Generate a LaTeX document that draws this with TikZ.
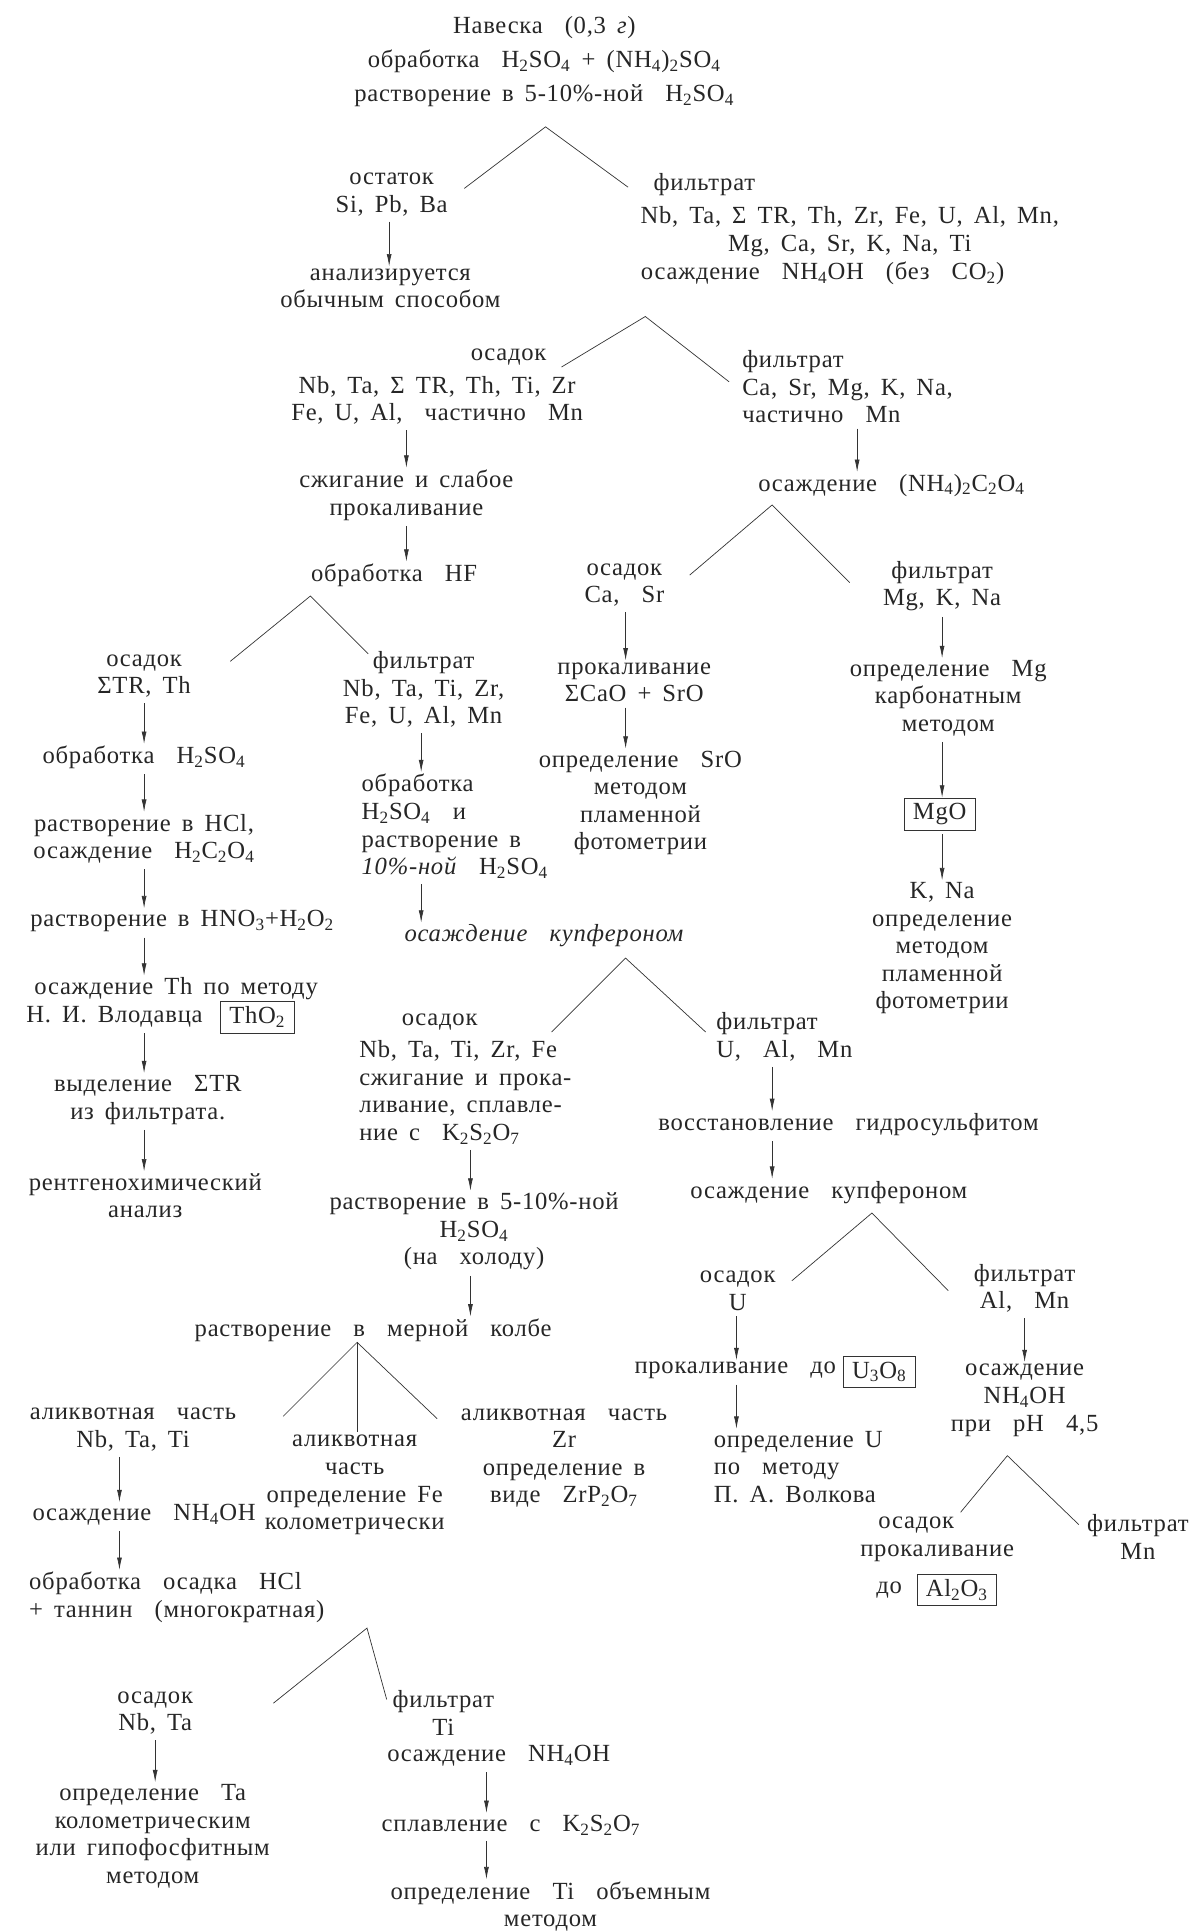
\documentclass[tikz,border=0pt]{standalone}
\usepackage{fontspec}
\setmainfont{Liberation Serif}[LetterSpace=3,WordSpace=1.6]
\usetikzlibrary{arrows.meta}

\begin{document}
\begin{tikzpicture}[x=0.0246cm, y=-0.0246cm,
	every node/.style={font=\fontsize{14}{15.7}\selectfont, align=center, inner sep=1pt, text=black!85},
	arr/.style={-{Latex[length=7pt,width=2.8pt]}, draw=black!80, shorten <=2pt},
	split/.style={draw=black!80},
	res/.style={draw=black!80, inner xsep=5pt, inner ysep=3pt}]
	\useasboundingbox (0,0) rectangle (972,1568);
	% columns of the arrows
	\coordinate (cA) at (117,0);
	\coordinate (cB) at (316,0);
	\coordinate (cC) at (330,0);
	\coordinate (cD) at (342,0);
	\coordinate (cE) at (382,0);
	\coordinate (cG) at (508,0);
	\coordinate (cH) at (696,0);
	\coordinate (cI) at (765,0);
	\coordinate (cJ) at (627,0);
	\coordinate (cK) at (598,0);
	\coordinate (cL) at (832,0);
	\coordinate (cM) at (97,0);
	\coordinate (cN) at (126,0);
	\coordinate (cO) at (395,0);

	% sample
	\node[font=\fontsize{14}{19.6}\selectfont] (nav) at (442,50) {Навеска \ (0,3 \textit{г})\\обработка \ H\textsubscript{2}SO\textsubscript{4} + (NH\textsubscript{4})\textsubscript{2}SO\textsubscript{4}\\растворение в 5-10\%-ной \ H\textsubscript{2}SO\textsubscript{4}};
	\coordinate (sp1) at (443,103);
	\coordinate (sp1l) at (377,153);
	\coordinate (sp1r) at (510,152);
	\draw[split] (sp1l) -- (sp1) -- (sp1r);

	\node (ost) at (318,158) {остаток\\Si, Pb, Ba};
	\node (anal) at (317,234) {анализируется\\обычным способом};
	\draw[arr] (ost.south -| cB) -- (anal.north -| cB);

	\node (fil1) at (572,150) {фильтрат};
	\node (fil1c) at (690,188) {Nb, Ta, Σ TR, Th, Zr, Fe, U, Al, Mn,\\Mg, Ca, Sr, K, Na, Ti};
	\node (osNH) at (668,222) {осаждение \ NH\textsubscript{4}OH \ (без \ CO\textsubscript{2})};
	\coordinate (sp2) at (524,257);
	\coordinate (sp2l) at (456,298);
	\coordinate (sp2r) at (592,310);
	\draw[split] (sp2l) -- (sp2) -- (sp2r);

	% hydroxide precipitate
	\node (osad2) at (413,290) {осадок};
	\node (osad2c) at (355,325) {Nb, Ta, Σ TR, Th, Ti, Zr\\Fe, U, Al, \ частично \ Mn};
	\node (burn) at (330,402) {сжигание и слабое\\прокаливание};
	\node (hf) at (320,467) {обработка \ HF};
	\draw[arr] (osad2c.south -| cC) -- (burn.north -| cC);
	\draw[arr] (burn.south -| cC) -- (hf.north -| cC);
	\coordinate (sp4) at (252,484);
	\coordinate (sp4l) at (187,537);
	\coordinate (sp4r) at (299,531);
	\draw[split] (sp4l) -- (sp4) -- (sp4r);

	% TR, Th
	\node (osTR) at (117,549) {осадок\\ΣTR, Th};
	\node (trH) at (117,615) {обработка \ H\textsubscript{2}SO\textsubscript{4}};
	\node (trHCl) at (117,681) {растворение в HCl,\\осаждение \ H\textsubscript{2}C\textsubscript{2}O\textsubscript{4}};
	\node (trHNO) at (148,748) {растворение в HNO\textsubscript{3}+H\textsubscript{2}O\textsubscript{2}};
	\node (trTh) at (143,803) {осаждение Th по методу};
	\node (trVl) at (93,826) {Н. И. Влодавца};
	\node[res] (tho) at (209,826) {ThO\textsubscript{2}};
	\node (trSel) at (120,893) {выделение \ ΣTR\\из фильтрата.};
	\node (trX) at (118,971) {рентгенохимический\\анализ};
	\draw[arr] (osTR.south -| cA) -- (trH.north -| cA);
	\draw[arr] (trH.south -| cA) -- (trHCl.north -| cA);
	\draw[arr] (trHCl.south -| cA) -- (trHNO.north -| cA);
	\draw[arr] (trHNO.south -| cA) -- (trTh.north -| cA);
	\draw[arr] (trVl.south -| cA) -- (trSel.north -| cA);
	\draw[arr] (trSel.south -| cA) -- (trX.north -| cA);

	% HF filtrate
	\node (filHF) at (344,560) {фильтрат\\Nb, Ta, Ti, Zr,\\Fe, U, Al, Mn};
	\node[align=left, anchor=west] (hfH) at (292,671) {обработка\\ H\textsubscript{2}SO\textsubscript{4} \ и\\растворение в\\\textit{10\%-ной} \ H\textsubscript{2}SO\textsubscript{4}};
	\node (kup1) at (442,760) {\textit{осаждение \ купфероном}};
	\draw[arr] (filHF.south -| cD) -- (hfH.north -| cD);
	\draw[arr] (hfH.south -| cD) -- (kup1.north -| cD);
	\coordinate (sp5) at (508,778);
	\coordinate (sp5l) at (448,838);
	\coordinate (sp5r) at (573,838);
	\draw[split] (sp5l) -- (sp5) -- (sp5r);

	\node (osNbh) at (357,830) {осадок};
	\node[align=left, anchor=west] (osNb) at (290,887) {Nb, Ta, Ti, Zr, Fe\\сжигание и прока-\\ливание, сплавле-\\ние с \ K\textsubscript{2}S\textsubscript{2}O\textsubscript{7}};
	\node (dis5) at (385,1000) {растворение в 5-10\%-ной\\H\textsubscript{2}SO\textsubscript{4}\\(на \ холоду)};
	\node (flask) at (303,1080) {растворение \ в \ мерной \ колбе};
	\draw[arr] (osNb.south -| cE) -- (dis5.north -| cE);
	\draw[arr] (dis5.south -| cE) -- (flask.north -| cE);
	\coordinate (sp9) at (290,1090);
	\coordinate (sp9l) at (230,1150);
	\coordinate (sp9m) at (290,1163);
	\coordinate (sp9r) at (355,1152);
	\draw[split] (sp9l) -- (sp9) -- (sp9r);
	\draw[split] (sp9) -- (sp9m);

	% aliquots
	\node (ali1) at (108,1161) {аликвотная \ часть\\Nb, Ta, Ti};
	\node (ali1NH) at (117,1230) {осаждение \ NH\textsubscript{4}OH};
	\node[align=left, anchor=west] (ali1HCl) at (22,1297) {обработка \ осадка \ HCl\\+ таннин \ (многократная)};
	\draw[arr] (ali1.south -| cM) -- (ali1NH.north -| cM);
	\draw[arr] (ali1NH.south -| cM) -- (ali1HCl.north -| cM);
	\node (ali2) at (288,1206) {аликвотная\\часть\\определение Fe\\колометрически};
	\node (ali3) at (458,1184) {аликвотная \ часть\\Zr\\определение в\\виде \ ZrP\textsubscript{2}O\textsubscript{7}};
	\coordinate (sp8) at (298,1322);
	\coordinate (sp8l) at (222,1383);
	\coordinate (sp8r) at (314,1380);
	\draw[split] (sp8l) -- (sp8) -- (sp8r);

	\node (osNbTa) at (126,1391) {осадок\\Nb, Ta};
	\node (taDet) at (124,1491) {определение \ Ta\\колометрическим\\или гипофосфитным\\методом};
	\draw[arr] (osNbTa.south -| cN) -- (taDet.north -| cN);
	\node (filTi) at (360,1391) {фильтрат\\Ti};
	\node (tiNH) at (405,1426) {осаждение \ NH\textsubscript{4}OH};
	\node (tiFuse) at (415,1482) {сплавление \ с \ K\textsubscript{2}S\textsubscript{2}O\textsubscript{7}};
	\node (tiDet) at (447,1548) {определение \ Ti \ объемным\\методом};
	\draw[arr] (tiNH.south -| cO) -- (tiFuse.north -| cO);
	\draw[arr] (tiFuse.south -| cO) -- (tiDet.north -| cO);

	% Ca, Sr, Mg, K, Na
	\node[align=left, anchor=west] (fil2) at (601,314) {фильтрат\\Ca, Sr, Mg, K, Na,\\частично \ Mn};
	\node (oxal) at (724,394) {осаждение \ (NH\textsubscript{4})\textsubscript{2}C\textsubscript{2}O\textsubscript{4}};
	\draw[arr] (fil2.south -| cH) -- (oxal.north -| cH);
	\coordinate (sp3) at (627,410);
	\coordinate (sp3l) at (560,467);
	\coordinate (sp3r) at (690,473);
	\draw[split] (sp3l) -- (sp3) -- (sp3r);

	\node (osCa) at (507,475) {осадок\\Ca, \ Sr};
	\node (calc) at (515,554) {прокаливание\\ΣCaO + SrO};
	\node (srdet) at (520,652) {определение \ SrO\\методом\\пламенной\\фотометрии};
	\draw[arr] (osCa.south -| cG) -- (calc.north -| cG);
	\draw[arr] (calc.south -| cG) -- (srdet.north -| cG);

	\node (filMg) at (765,476) {фильтрат\\Mg, K, Na};
	\node (mgdet) at (770,567) {определение \ Mg\\карбонатным\\методом};
	\node[res] (mgo) at (763,661) {MgO};
	\node (kna) at (765,770) {K, Na\\определение\\методом\\пламенной\\фотометрии};
	\draw[arr] (filMg.south -| cI) -- (mgdet.north -| cI);
	\draw[arr] (mgdet.south -| cI) -- (mgo.north -| cI);
	\draw[arr] (mgo.south -| cI) -- (kna.north -| cI);

	% U, Al, Mn
	\node[align=left, anchor=west] (filU) at (580,842) {фильтрат\\U, \ Al, \ Mn};
	\node (redU) at (689,913) {восстановление \ гидросульфитом};
	\node (kup2) at (673,968) {осаждение \ купфероном};
	\draw[arr] (filU.south -| cJ) -- (redU.north -| cJ);
	\draw[arr] (redU.south -| cJ) -- (kup2.north -| cJ);
	\coordinate (sp6) at (708,985);
	\coordinate (sp6l) at (643,1040);
	\coordinate (sp6r) at (770,1048);
	\draw[split] (sp6l) -- (sp6) -- (sp6r);

	\node (osU) at (599,1048) {осадок\\U};
	\node (calU) at (597,1113) {прокаливание \ до};
	\node[res] (u3o8) at (714,1114) {U\textsubscript{3}O\textsubscript{8}};
	\node[align=left, anchor=west] (detU) at (578,1191) {определение U\\по \ методу\\П. А. Волкова};
	\draw[arr] (osU.south -| cK) -- (calU.north -| cK);
	\draw[arr] (calU.south -| cK) -- (detU.north -| cK);

	\node (filAl) at (832,1046) {фильтрат\\Al, \ Mn};
	\node (alNH) at (832,1137) {осаждение\\NH\textsubscript{4}OH\\при \ pH \ 4,5};
	\draw[arr] (filAl.south -| cL) -- (alNH.north -| cL);
	\coordinate (sp7) at (818,1182);
	\coordinate (sp7l) at (780,1228);
	\coordinate (sp7r) at (876,1238);
	\draw[split] (sp7l) -- (sp7) -- (sp7r);

	\node (osAlh) at (744,1238) {осадок};
	\node (osAlc) at (761,1261) {прокаливание};
	\node (alDo) at (722,1291) {до};
	\node[res] (al2o3) at (777,1291) {Al\textsubscript{2}O\textsubscript{3}};
	\node (filMn) at (924,1248) {фильтрат\\Mn};
\end{tikzpicture}
\end{document}
